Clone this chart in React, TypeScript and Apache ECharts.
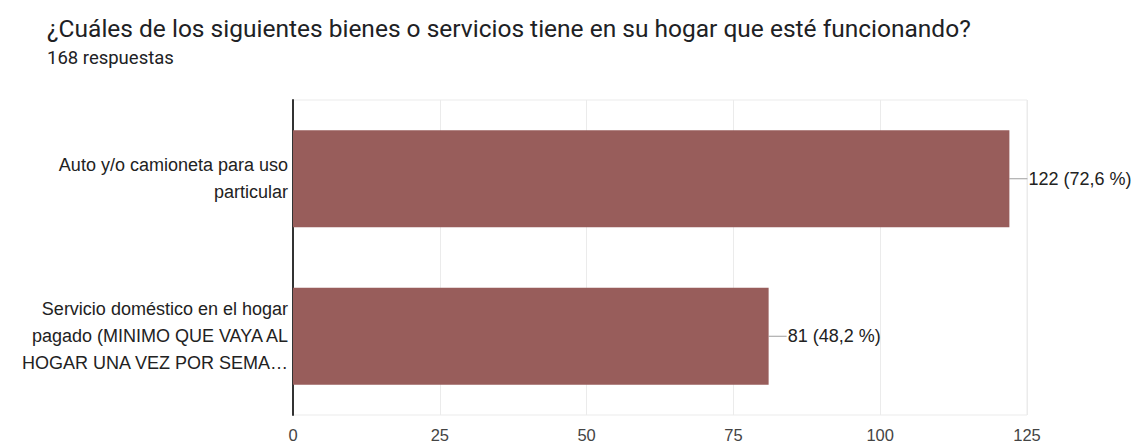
import React, { useEffect, useRef } from "react";
import * as echarts from "echarts";

const titleText = "¿Cuáles de los siguientes bienes o servicios tiene en su hogar que esté funcionando?";
const subtitleText = "168 respuestas";
const categories = [
  "Auto y/o camioneta para uso\nparticular",
  "Servicio doméstico en el hogar\npagado (MINIMO QUE VAYA AL\nHOGAR UNA VEZ POR SEMA…",
];
const counts = [122, 81];
const percents = ["72,6", "48,2"];
const xTicks = [0, 25, 50, 75, 100, 125];

export default function App() {
  const ref = useRef<HTMLDivElement>(null);
  useEffect(() => {
    document.body.style.margin = "0";
    const chart = echarts.init(ref.current!, null, { renderer: "svg" });
    chart.setOption({
      animation: false,
      backgroundColor: "#ffffff",
      title: [
        {
          text: titleText,
          left: 47,
          top: 16,
          padding: 0,
          textStyle: { fontFamily: "Roboto", fontSize: 24.5, fontWeight: "normal", color: "#202124" },
        },
        {
          text: subtitleText,
          left: 47,
          top: 48,
          padding: 0,
          textStyle: { fontFamily: "Roboto", fontSize: 18.5, fontWeight: "normal", color: "#202124" },
        },
      ],
      grid: {
        left: 293,
        right: 109,
        top: 100,
        bottom: 28,
        containLabel: false,
        show: true,
        borderColor: "#ebebeb",
        borderWidth: 1,
      },
      xAxis: {
        type: "value",
        min: xTicks[0],
        max: xTicks[xTicks.length - 1],
        interval: 25,
        axisLine: { show: false },
        axisTick: { show: false },
        splitLine: { show: true, lineStyle: { color: "#ebebeb", width: 1 } },
        axisLabel: {
          fontFamily: "Liberation Sans",
          fontSize: 16.5,
          color: "#444444",
          margin: 11,
        },
      },
      yAxis: {
        type: "category",
        inverse: true,
        data: categories,
        axisLine: { show: true, lineStyle: { color: "#333333", width: 2 } },
        axisTick: { show: false },
        splitLine: { show: false },
        axisLabel: {
          fontFamily: "Liberation Sans",
          fontSize: 18,
          color: "#222222",
          lineHeight: 27,
          align: "right",
          margin: 5,
          padding: [4, 0, 0, 0],
        },
      },
      series: [
        {
          type: "bar",
          data: counts,
          barWidth: 97,
          itemStyle: { color: "#985d5b" },
          label: {
            show: true,
            position: "right",
            distance: 19,
            fontFamily: "Liberation Sans",
            fontSize: 18,
            color: "#222222",
            formatter: (p: any) => `${counts[p.dataIndex]} (${percents[p.dataIndex]} %)`,
          },
        },
        {
          type: "custom",
          data: counts.map((v, i) => [v, i]),
          encode: { x: 0, y: 1 },
          silent: true,
          renderItem: (params: any, api: any) => {
            const pt = api.coord([api.value(0), api.value(1)]);
            return {
              type: "line",
              shape: { x1: pt[0], y1: pt[1], x2: pt[0] + 18, y2: pt[1] },
              style: { stroke: "#9e9e9e", lineWidth: 1 },
            };
          },
        },
      ],
    });
    return () => chart.dispose();
  }, []);
  return <div ref={ref} style={{ width: 1136, height: 443 }} />;
}
